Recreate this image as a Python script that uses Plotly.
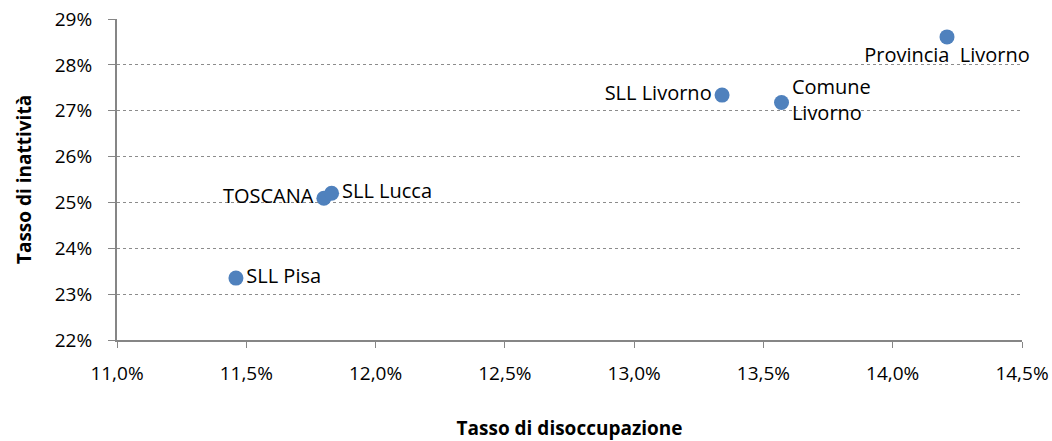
import plotly.graph_objects as go

names = ["Provincia  Livorno", "SLL Livorno", "Comune<br>Livorno", "TOSCANA", "SLL Lucca", "SLL Pisa"]
disoccupazione = [14.21, 13.34, 13.57, 11.80, 11.83, 11.46]
inattivita = [28.61, 27.34, 27.18, 25.09, 25.20, 23.35]
positions = ["bottom center", "middle left", "middle right", "middle left", "middle right", "middle right"]

x_ticks = [11.0, 11.5, 12.0, 12.5, 13.0, 13.5, 14.0, 14.5]
x_labels = ["11,0%", "11,5%", "12,0%", "12,5%", "13,0%", "13,5%", "14,0%", "14,5%"]
y_ticks = [22, 23, 24, 25, 26, 27, 28, 29]
y_labels = ["22%", "23%", "24%", "25%", "26%", "27%", "28%", "29%"]

font_family = "Open Sans, sans-serif"

fig = go.Figure()
fig.add_trace(go.Scatter(
    x=disoccupazione, y=inattivita, mode="markers+text",
    text=names, textposition=positions,
    textfont=dict(family=font_family, size=20, color="#000000"),
    marker=dict(size=15, color="#4F81BD"),
    cliponaxis=False, showlegend=False,
))

fig.update_layout(
    width=1052, height=441,
    margin=dict(l=117, r=30, t=19, b=101),
    plot_bgcolor="white", paper_bgcolor="white",
    font=dict(family=font_family, size=19, color="#000000"),
    xaxis=dict(
        range=[11.0, 14.5], tickvals=x_ticks, ticktext=x_labels,
        showgrid=False, zeroline=False, automargin=False,
        showline=True, linecolor="#868686", linewidth=2,
        ticks="outside", ticklen=6, tickcolor="#868686",
        ticklabelstandoff=9,
        title=dict(text="<b>Tasso di disoccupazione</b>", standoff=38,
                   font=dict(size=19)),
    ),
    yaxis=dict(
        range=[22, 29], tickvals=y_ticks, ticktext=y_labels,
        showgrid=True, gridcolor="#8c8c8c", griddash="dot", gridwidth=1,
        zeroline=False, automargin=False,
        showline=True, linecolor="#868686", linewidth=2,
        ticks="outside", ticklen=7, tickcolor="#868686",
        ticklabelstandoff=12,
        title=dict(text="<b>Tasso di inattività</b>", standoff=18,
                   font=dict(size=19)),
    ),
)

fig.write_html("out.html", config={"displayModeBar": False},
               post_script="document.body.style.margin='0';")
